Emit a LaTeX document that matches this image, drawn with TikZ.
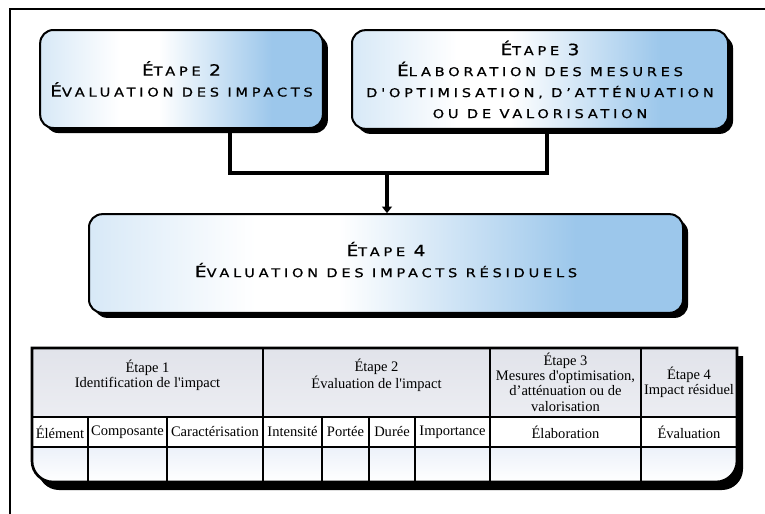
\documentclass[tikz,border=0pt]{standalone}
\usepackage{fontspec}
\setmainfont{Liberation Serif}[Ligatures=TeXOff]
\newfontfamily\boxfont{DejaVu Sans}[FakeStretch=1.2,LetterSpace=31,FakeBold=0.8,Ligatures=TeXOff]
\usetikzlibrary{arrows.meta,shadows}

\definecolor{glowblue}{RGB}{156,199,235}
\colorlet{glowpale}{glowblue!40}
\definecolor{headtop}{RGB}{225,227,234}
\definecolor{headbot}{RGB}{236,237,242}
\definecolor{rowtop}{RGB}{236,241,249}

% white glow on the left, blue towards the right
\pgfdeclarehorizontalshading{boxglow}{100bp}{%
  color(0bp)=(glowpale); color(25bp)=(glowpale); color(39bp)=(white);
  color(46bp)=(white); color(66bp)=(glowblue); color(100bp)=(glowblue)}

% larger capital inside small-caps style headings
\newcommand\bigC[1]{{\fontsize{11.6pt}{15.75pt}\selectfont #1}}

% outline of the summary table (square top, rounded bottom corners)
\def\tableoutline{(32,348) -- (737,348) -- (737,461)
  .. controls (737,472.6) and (727.6,482) .. (716,482) -- (53,482)
  .. controls (41.4,482) and (32,472.6) .. (32,461) -- cycle}

\begin{document}
\begin{tikzpicture}[x=0.75pt,y=-0.75pt,
  stagebox/.style={draw=black, line width=1.5pt, rounded corners=10pt,
    shading=boxglow,
    drop shadow={shadow xshift=3.8pt, shadow yshift=-3.8pt, fill=black, opacity=1},
    align=center, inner sep=0pt,
    font=\boxfont\fontsize{9.1pt}{15.75pt}\selectfont},
  link/.style={line width=3pt},
  gridline/.style={line width=1.5pt},
  cell/.style={font=\fontsize{10.9pt}{11.5pt}\selectfont, align=center, inner sep=0pt}]

\useasboundingbox (0,0) rectangle (765,514);

% page frame
\draw[line width=0.8pt] (765,9) -- (10,9) -- (10,514);

% connectors between the stages
\coordinate (jl) at (230,173);
\coordinate (jr) at (547,173);
\coordinate (jm) at (387,173);

% stage boxes
\node[stagebox, minimum width=212pt, minimum height=73.5pt] (s2) at (181.5,79)
  {\bigC{É}TAPE \bigC{2}\\\bigC{É}VALUATION DES IMPACTS};
\node[stagebox, minimum width=282pt, minimum height=74pt] (s3) at (540,79.5)
  {\bigC{É}TAPE \bigC{3}\\\bigC{É}LABORATION DES MESURES\\D'OPTIMISATION, D’ATTÉNUATION\\OU DE VALORISATION};
\node[stagebox, minimum width=445.5pt, minimum height=74pt] (s4) at (386,263.5)
  {\bigC{É}TAPE \bigC{4}\\\bigC{É}VALUATION DES IMPACTS RÉSIDUELS\\[-9.75pt]};

\draw[link] ([yshift=-1pt]jl |- s2.south) -- (jl) -- (jr) -- ([yshift=-1pt]jr |- s3.south);
\draw[line width=2.4pt, -{Triangle[length=5pt,width=7.5pt]}] (jm) -- (jm |- s4.north);

% table: shadow, row fills, grid
\fill[black, shift={(6,8)}] \tableoutline;
\begin{scope}
  \clip \tableoutline;
  \fill[white] (32,348) rectangle (737,482);
  \shade[top color=headtop, bottom color=headbot] (32,348) rectangle (737,417);
  \shade[top color=rowtop, bottom color=white] (32,447) rectangle (737,482);
\end{scope}
\draw[gridline] (32,417) -- (737,417);
\draw[gridline] (32,447) -- (737,447);
\foreach \x in {263,490,641} \draw[gridline] (\x,348) -- (\x,482);
\foreach \x in {88,167,322,369,415} \draw[gridline] (\x,417) -- (\x,482);
\draw[line width=2pt] \tableoutline;

% table headings
\node[cell] (h1) at (147.5,375) {Étape 1\\Identification de l'impact};
\node[cell] (h2) at (376.5,375) {Étape 2\\Évaluation de l'impact};
\node[cell] (h3) at (565.5,382) {Étape 3\\Mesures d'optimisation,\\d’atténuation ou de\\valorisation};
\node[cell] (h4) at (689,382) {Étape 4\\Impact résiduel};

\node[cell] (c1) at (60,432) {Élément};
\node[cell] (c2) at (127.5,432) {Composante};
\node[cell] (c3) at (215,432) {Caractérisation};
\node[cell] (c4) at (292.5,432) {Intensité};
\node[cell] (c5) at (345.5,432) {Portée};
\node[cell] (c6) at (392,432) {Durée};
\node[cell] (c7) at (452.5,432) {Importance};
\node[cell] (c8) at (565.5,432) {Élaboration};
\node[cell] (c9) at (689,432) {Évaluation};
\end{tikzpicture}
\end{document}
